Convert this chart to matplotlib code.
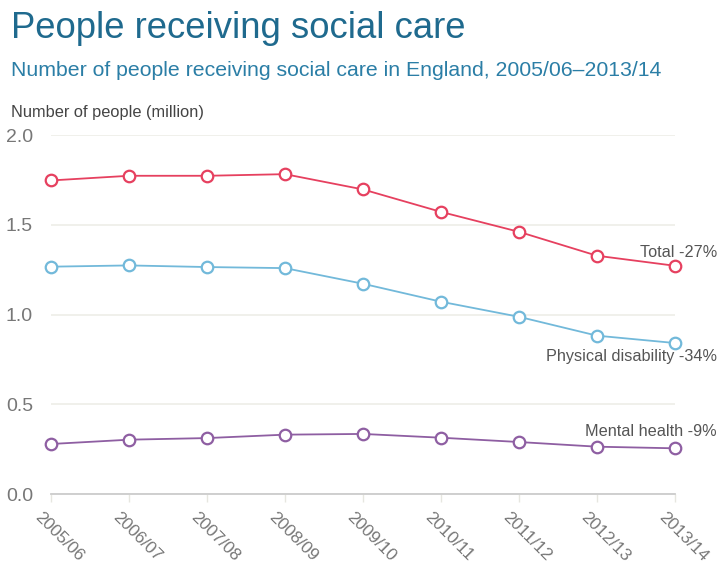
import matplotlib
matplotlib.use("Agg")
import matplotlib.pyplot as plt
import matplotlib.transforms as mtransforms

plt.rcParams['font.family'] = ['Liberation Sans', 'DejaVu Sans']

years = ["2005/06", "2006/07", "2007/08", "2008/09", "2009/10",
         "2010/11", "2011/12", "2012/13", "2013/14"]
total = [1.747, 1.773, 1.773, 1.782, 1.697, 1.572, 1.461, 1.328, 1.272]
physical = [1.267, 1.274, 1.265, 1.259, 1.172, 1.072, 0.988, 0.883, 0.842]
mental = [0.280, 0.304, 0.313, 0.332, 0.336, 0.315, 0.291, 0.265, 0.256]
series_labels = ["Total -27%", "Physical disability -34%", "Mental health -9%"]
yticks = [0.0, 0.5, 1.0, 1.5, 2.0]

W, H = 719, 566
fig = plt.figure(figsize=(W / 100, H / 100), dpi=100)
ax = fig.add_axes([51 / W, 1 - 494.3 / H, (675 - 51) / W, (494.3 - 135) / H])

x = list(range(len(years)))
colors = ["#e6405f", "#72b9da", "#8e5ea2"]
for vals, c in zip([total, physical, mental], colors):
    ax.plot(x, vals, color=c, lw=1.3, marker='o', ms=8.3, mfc='white',
            mec=c, mew=1.6, clip_on=False, zorder=3)

ax.set_xlim(0, len(years) - 1)
ax.set_ylim(0, 2.0)
ax.set_yticks(yticks)
ax.set_yticklabels([f"{v:.1f}" for v in yticks])
ax.grid(axis='y', color='#eeeee8', lw=1.2)
ax.set_axisbelow(True)
for s in ['top', 'right', 'left']:
    ax.spines[s].set_visible(False)
ax.spines['bottom'].set_color('#cccccc')
ax.spines['bottom'].set_linewidth(1.3)
ax.tick_params(axis='y', length=0, pad=13, labelsize=14, labelcolor='#777777')
ax.tick_params(axis='x', length=6, color='#e6e6e0', width=1, labelsize=12.4,
               labelcolor='#777777', pad=5)
ax.set_xticks(x)
ax.set_xticklabels(years, rotation=-45, ha='left', va='top', rotation_mode='anchor')
offset = mtransforms.ScaledTranslation(-8 / 100, 0, fig.dpi_scale_trans)
for lab in ax.get_xticklabels():
    lab.set_transform(lab.get_transform() + offset)

# end labels
lab_kw = dict(ha='right', va='center', fontsize=11.7, color='#555555')
fig.text(717 / W, 1 - 252 / H, series_labels[0], **lab_kw)
fig.text(717 / W, 1 - 356 / H, series_labels[1], **lab_kw)
fig.text(717 / W, 1 - 432 / H, series_labels[2], **lab_kw)

fig.text(11 / W, 1 - 29 / H, "People receiving social care", ha='left', va='center',
         fontsize=26.3, color='#1f6a8e')
fig.text(11 / W, 1 - 71 / H,
         "Number of people receiving social care in England, 2005/06\u20132013/14",
         ha='left', va='center', fontsize=15.3, color='#2b7ea6')
fig.text(11 / W, 1 - 112 / H, "Number of people (million)", ha='left', va='center',
         fontsize=11.8, color='#444444')

fig.savefig("out.png", dpi=100, facecolor='white')
